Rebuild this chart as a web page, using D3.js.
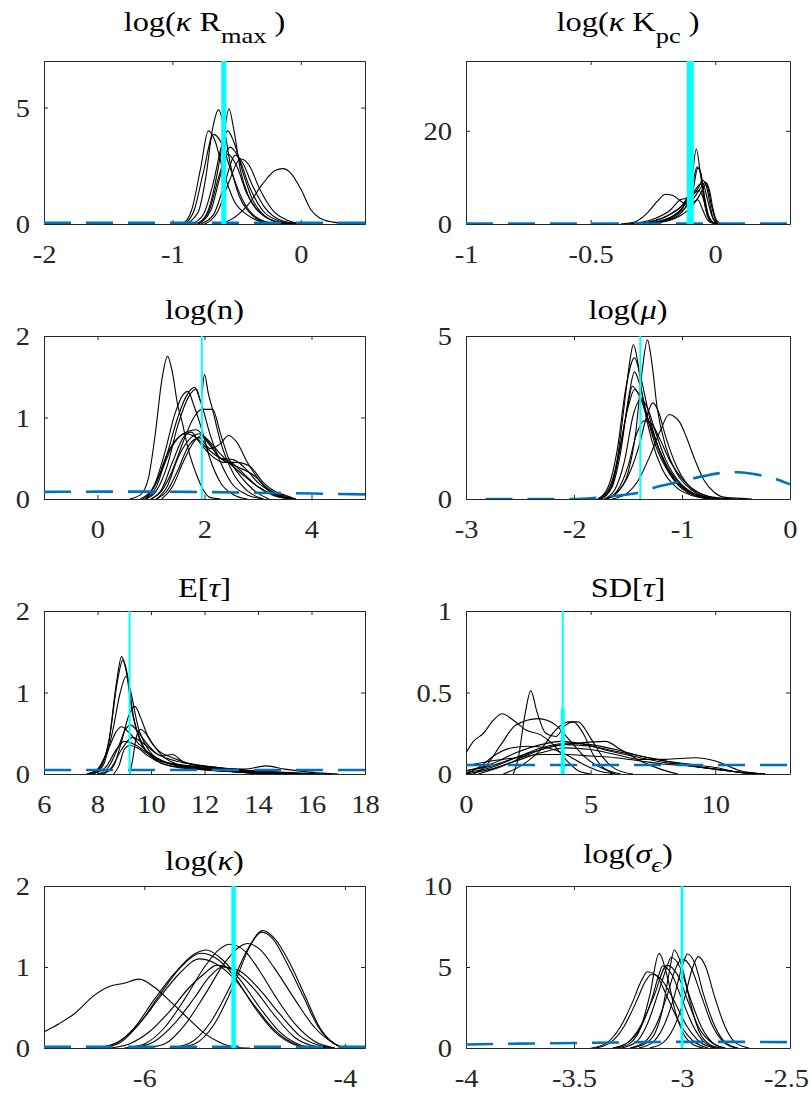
<!DOCTYPE html>
<html>
<head>
<meta charset="utf-8">
<script src="https://cdn.jsdelivr.net/npm/d3@7"></script>
<style>
  body { margin: 0; background: #fff; }
  svg { display: block; }
</style>
</head>
<body>
<svg id="fig" width="811" height="1097"></svg>
<script>
// ---------- posterior densities, priors and true values per parameter ----------

// log(kappa Rmax)
const kRmaxX = [-2, 0.5], kRmaxY = [0, 7];
const kRmaxTicksX = [-2, -1, 0], kRmaxTicksY = [0, 5];
const kRmaxTruth = -0.6;
const kRmaxPrior = [[-2, 0.05], [0.5, 0.05]];
const kRmaxCurves = [
  [[-0.9,0],[-0.8,0.5],[-0.74,2.0],[-0.69,4.0],[-0.64,4.9],[-0.6,4.2],[-0.55,2.6],[-0.48,1.2],[-0.4,0.5],[-0.3,0.1],[-0.2,0]],
  [[-0.8,0],[-0.72,0.6],[-0.65,2.2],[-0.6,3.8],[-0.56,4.95],[-0.52,4.0],[-0.47,2.3],[-0.4,1.1],[-0.3,0.4],[-0.15,0.05],[-0.05,0]],
  [[-0.92,0],[-0.85,0.6],[-0.78,2.4],[-0.72,4.0],[-0.67,3.6],[-0.6,2.2],[-0.52,1.0],[-0.42,0.4],[-0.3,0.08],[-0.2,0]],
  [[-0.9,0],[-0.83,0.6],[-0.76,2.2],[-0.68,3.85],[-0.62,3.5],[-0.55,2.4],[-0.45,1.0],[-0.35,0.3],[-0.2,0]],
  [[-0.85,0],[-0.76,0.4],[-0.68,1.8],[-0.62,3.3],[-0.57,4.0],[-0.52,3.5],[-0.45,2.2],[-0.38,1.1],[-0.28,0.35],[-0.15,0.05],[-0.05,0]],
  [[-0.82,0],[-0.72,0.5],[-0.64,2.0],[-0.55,3.3],[-0.48,2.8],[-0.4,1.6],[-0.3,0.6],[-0.18,0.15],[-0.05,0]],
  [[-0.78,0],[-0.68,0.4],[-0.6,1.6],[-0.51,2.95],[-0.45,2.6],[-0.38,1.7],[-0.28,0.7],[-0.15,0.15],[0,0]],
  [[-0.75,0],[-0.65,0.5],[-0.56,1.8],[-0.47,2.8],[-0.4,2.5],[-0.32,1.5],[-0.22,0.6],[-0.1,0.15],[0.02,0]],
  [[-0.62,0],[-0.5,0.35],[-0.4,0.9],[-0.3,1.7],[-0.2,2.3],[-0.14,2.38],[-0.08,2.2],[0,1.5],[0.08,0.6],[0.15,0.25],[0.25,0.08],[0.4,0]],
  [[-0.8,0],[-0.7,0.6],[-0.63,2.0],[-0.57,3.0],[-0.5,2.5],[-0.42,1.3],[-0.32,0.5],[-0.2,0.1],[-0.1,0]]
];

// log(kappa Kpc)
const kKpcX = [-1, 0.3], kKpcY = [0, 35];
const kKpcTicksX = [-1, -0.5, 0], kKpcTicksY = [0, 20];
const kKpcTruth = -0.1;
const kKpcPrior = [[-1, 0.1], [0.3, 0.1]];
const kKpcCurves = [
  [[-0.3,0],[-0.22,0.6],[-0.16,2.0],[-0.12,4.5],[-0.095,9],[-0.076,16.1],[-0.06,11],[-0.045,5],[-0.03,1.5],[-0.01,0.2],[0.01,0]],
  [[-0.32,0],[-0.24,0.8],[-0.17,2.5],[-0.12,5],[-0.09,9],[-0.072,12.3],[-0.055,10],[-0.04,5],[-0.025,1.5],[-0.005,0.2],[0.015,0]],
  [[-0.3,0],[-0.2,1],[-0.14,3],[-0.1,5.5],[-0.07,7.5],[-0.05,9.4],[-0.035,8],[-0.02,4],[-0.008,1],[0.01,0]],
  [[-0.28,0],[-0.18,1.2],[-0.12,3.5],[-0.08,6],[-0.055,8],[-0.04,9.0],[-0.028,7.5],[-0.015,4],[0,1],[0.02,0]],
  [[-0.3,0],[-0.2,1.5],[-0.13,4],[-0.09,6.5],[-0.06,8.5],[-0.045,8],[-0.03,5],[-0.015,2],[0.005,0.3],[0.02,0]],
  [[-0.26,0],[-0.17,1],[-0.11,3],[-0.07,5.5],[-0.05,7.5],[-0.035,8.8],[-0.022,7],[-0.01,3.5],[0.005,0.8],[0.025,0]],
  [[-0.38,0],[-0.32,0.5],[-0.27,2.5],[-0.23,5],[-0.2,6.4],[-0.17,6.1],[-0.14,5],[-0.11,4],[-0.09,4.6],[-0.07,5.2],[-0.05,3],[-0.03,0.8],[0,0]],
  [[-0.35,0],[-0.25,1],[-0.18,3],[-0.14,5.2],[-0.11,5.6],[-0.085,6.5],[-0.065,7.2],[-0.045,5],[-0.03,2],[-0.01,0.4],[0.01,0]],
  [[-0.28,0],[-0.18,1],[-0.12,3.5],[-0.09,7],[-0.07,12],[-0.058,11],[-0.045,6],[-0.03,2],[-0.01,0.3],[0.01,0]]
];

// log(n)
const logNX = [-1, 5], logNY = [0, 2];
const logNTicksX = [0, 2, 4], logNTicksY = [0, 1, 2];
const logNTruth = 1.95;
const logNPrior = [[-1,0.088],[0,0.09],[1,0.09],[2,0.085],[3,0.077],[4,0.067],[5,0.057]];
const logNCurves = [
  [[0.6,0],[0.8,0.05],[0.95,0.25],[1.08,0.8],[1.2,1.45],[1.31,1.75],[1.4,1.55],[1.5,1.15],[1.58,0.95],[1.7,0.6],[1.85,0.3],[1.97,0.12],[2.1,0.02],[2.3,0]],
  [[0.9,0],[1.1,0.1],[1.3,0.4],[1.5,0.9],[1.7,1.25],[1.85,1.35],[1.93,1.2],[2.0,1.53],[2.07,1.3],[2.15,1.1],[2.3,0.7],[2.55,0.3],[2.8,0.1],[3.1,0]],
  [[0.9,0],[1.1,0.15],[1.3,0.55],[1.5,1.0],[1.65,1.25],[1.81,1.37],[1.95,1.15],[2.1,0.8],[2.3,0.45],[2.5,0.2],[2.8,0.05],[3.1,0]],
  [[0.85,0],[1.05,0.15],[1.25,0.55],[1.45,1.05],[1.6,1.28],[1.69,1.32],[1.8,1.15],[1.95,0.85],[2.1,0.5],[2.3,0.2],[2.55,0.05],[2.8,0]],
  [[1.0,0],[1.2,0.1],[1.4,0.35],[1.6,0.7],[1.8,1.0],[1.95,1.1],[2.15,1.1],[2.3,0.8],[2.45,0.5],[2.65,0.3],[2.9,0.12],[3.2,0]],
  [[0.8,0],[1.0,0.1],[1.2,0.35],[1.4,0.65],[1.6,0.8],[1.85,0.85],[2.05,0.7],[2.3,0.5],[2.6,0.4],[2.9,0.3],[3.2,0.12],[3.5,0.02],[3.7,0]],
  [[0.9,0],[1.1,0.2],[1.3,0.55],[1.5,0.75],[1.65,0.8],[1.85,0.75],[2.05,0.62],[2.3,0.5],[2.5,0.45],[2.75,0.3],[3.0,0.15],[3.3,0.04],[3.6,0]],
  [[1.1,0],[1.3,0.1],[1.5,0.35],[1.7,0.65],[1.9,0.75],[2.1,0.62],[2.3,0.68],[2.45,0.78],[2.6,0.7],[2.8,0.45],[3.0,0.25],[3.2,0.1],[3.5,0.02],[3.7,0]],
  [[1.0,0],[1.2,0.12],[1.4,0.45],[1.6,0.75],[1.75,0.82],[1.9,0.7],[2.1,0.55],[2.35,0.45],[2.6,0.45],[2.85,0.4],[3.1,0.2],[3.4,0.06],[3.7,0]],
  [[1.2,0],[1.4,0.15],[1.6,0.45],[1.8,0.7],[1.95,0.78],[2.1,0.7],[2.3,0.55],[2.5,0.42],[2.75,0.28],[3.0,0.15],[3.3,0.05],[3.6,0]],
  [[1.1,0],[1.3,0.15],[1.5,0.5],[1.7,0.72],[1.9,0.8],[2.1,0.68],[2.3,0.5],[2.55,0.48],[2.8,0.35],[3.0,0.2],[3.3,0.08],[3.5,0.05],[3.7,0]]
];

// log(mu)
const logMuX = [-3, 0], logMuY = [0, 5];
const logMuTicksX = [-3, -2, -1, 0], logMuTicksY = [0, 5];
const logMuTruth = -1.386;
const logMuPrior = [[-2.82,0],[-2.0,0.0],[-1.79,0.04],[-1.6,0.1],[-1.4,0.2],[-1.22,0.38],[-1.0,0.55],[-0.79,0.71],[-0.63,0.8],[-0.48,0.82],[-0.29,0.74],[-0.12,0.6],[0,0.45]];
const logMuCurves = [
  [[-1.78,0],[-1.68,0.3],[-1.6,1.2],[-1.53,3.0],[-1.48,4.3],[-1.45,4.74],[-1.41,4.2],[-1.36,3.0],[-1.28,1.8],[-1.18,0.9],[-1.05,0.35],[-0.9,0.1],[-0.75,0]],
  [[-1.7,0],[-1.6,0.2],[-1.5,0.8],[-1.43,2.0],[-1.37,3.9],[-1.32,4.88],[-1.28,4.2],[-1.23,2.8],[-1.15,1.6],[-1.05,0.8],[-0.92,0.3],[-0.8,0.08],[-0.65,0]],
  [[-1.78,0],[-1.68,0.4],[-1.6,1.5],[-1.52,3.4],[-1.44,4.33],[-1.38,3.7],[-1.3,2.5],[-1.2,1.4],[-1.08,0.6],[-0.95,0.2],[-0.8,0.05],[-0.65,0]],
  [[-1.75,0],[-1.65,0.4],[-1.57,1.6],[-1.5,2.9],[-1.46,3.46],[-1.4,3.2],[-1.32,2.5],[-1.22,1.6],[-1.1,0.8],[-0.98,0.35],[-0.85,0.1],[-0.7,0]],
  [[-1.76,0],[-1.66,0.35],[-1.58,1.5],[-1.5,2.8],[-1.44,3.36],[-1.38,3.1],[-1.3,2.3],[-1.2,1.4],[-1.08,0.65],[-0.95,0.25],[-0.8,0.06],[-0.6,0]],
  [[-1.7,0],[-1.6,0.2],[-1.5,0.7],[-1.4,1.6],[-1.33,2.5],[-1.27,2.95],[-1.22,2.7],[-1.15,1.9],[-1.05,1.0],[-0.95,0.45],[-0.82,0.15],[-0.65,0]],
  [[-1.65,0],[-1.52,0.15],[-1.4,0.6],[-1.3,1.3],[-1.2,2.1],[-1.12,2.59],[-1.06,2.5],[-1.02,2.35],[-0.96,1.9],[-0.88,1.2],[-0.8,0.6],[-0.7,0.2],[-0.6,0.05],[-0.45,0.02],[-0.35,0]],
  [[-1.72,0],[-1.62,0.3],[-1.53,1.2],[-1.45,2.6],[-1.38,3.05],[-1.32,2.8],[-1.25,2.1],[-1.15,1.2],[-1.02,0.5],[-0.88,0.15],[-0.7,0]],
  [[-1.7,0],[-1.6,0.25],[-1.5,1.0],[-1.42,2.0],[-1.35,2.4],[-1.28,2.3],[-1.2,1.8],[-1.1,1.1],[-0.98,0.55],[-0.85,0.2],[-0.7,0.05],[-0.5,0]],
  [[-1.75,0],[-1.65,0.35],[-1.57,1.4],[-1.49,3.2],[-1.44,3.9],[-1.39,3.5],[-1.32,2.5],[-1.24,1.6],[-1.12,0.8],[-0.98,0.3],[-0.85,0.08],[-0.7,0]]
];

// E[tau]
const meanTauX = [6, 18], meanTauY = [0, 2];
const meanTauTicksX = [6, 8, 10, 12, 14, 16, 18], meanTauTicksY = [0, 1, 2];
const meanTauTruth = 9.2;
const meanTauPrior = [[6, 0.05], [18, 0.05]];
const meanTauCurves = [
  [[7.6,0],[8.0,0.05],[8.4,0.35],[8.7,1.1],[8.9,1.44],[9.05,1.3],[9.3,0.75],[9.6,0.4],[10.0,0.22],[10.5,0.12],[11.2,0.08],[12.5,0.04],[14,0.01],[15,0]],
  [[7.7,0],[8.1,0.08],[8.45,0.45],[8.75,1.15],[8.95,1.4],[9.1,1.25],[9.35,0.7],[9.7,0.35],[10.2,0.18],[11,0.1],[12,0.06],[13.5,0.02],[15,0]],
  [[7.8,0],[8.2,0.1],[8.55,0.5],[8.85,1.0],[9.07,1.2],[9.25,1.0],[9.5,0.6],[9.9,0.3],[10.5,0.15],[11.5,0.09],[13,0.04],[14.5,0.01],[16,0]],
  [[8.2,0],[8.6,0.1],[8.9,0.4],[9.15,0.7],[9.4,0.83],[9.6,0.7],[9.9,0.45],[10.3,0.28],[10.8,0.2],[11.5,0.12],[12.5,0.07],[14,0.03],[16,0]],
  [[7.6,0],[8.0,0.06],[8.4,0.3],[8.7,0.52],[8.9,0.58],[9.2,0.5],[9.6,0.35],[10.1,0.22],[10.6,0.14],[11.5,0.1],[12.5,0.07],[13.5,0.06],[14.3,0.1],[15,0.06],[16,0.02],[17,0]],
  [[8.0,0],[8.4,0.08],[8.8,0.35],[9.05,0.55],[9.25,0.6],[9.5,0.52],[9.9,0.35],[10.4,0.22],[10.8,0.24],[11.2,0.15],[12,0.1],[13,0.06],[14.5,0.02],[16,0]],
  [[8.1,0],[8.5,0.07],[8.9,0.3],[9.3,0.45],[9.7,0.38],[10.2,0.25],[10.7,0.18],[11.5,0.12],[12.5,0.08],[13.5,0.05],[15,0.02],[16.5,0]],
  [[7.8,0],[8.3,0.08],[8.7,0.3],[9.0,0.4],[9.4,0.36],[9.9,0.25],[10.5,0.15],[11.2,0.1],[12.2,0.06],[13.5,0.03],[15,0]],
  [[8.6,0],[8.8,0.1],[9.0,0.3],[9.2,0.35],[9.5,0.32],[9.9,0.22],[10.4,0.13],[11,0.08],[12,0.05],[13.5,0.02],[15,0]],
  [[9.2,0],[9.3,0.15],[9.45,0.45],[9.6,0.55],[9.8,0.5],[10.1,0.35],[10.5,0.2],[11,0.12],[12,0.06],[13,0.03],[14,0]]
];

// SD[tau]
const sdTauX = [0, 13], sdTauY = [0, 1];
const sdTauTicksX = [0, 5, 10], sdTauTicksY = [0, 0.5, 1];
const sdTauTruth = 3.88;
const sdTauTruthLow = [0, 0.4];
const sdTauPrior = [[0, 0.055], [13, 0.055]];
const sdTauCurves = [
  [[0,0.13],[0.3,0.2],[0.7,0.25],[1.1,0.33],[1.45,0.37],[1.9,0.33],[2.4,0.27],[3.0,0.24],[3.5,0.18],[4.0,0.09],[4.5,0.02],[5,0]],
  [[1.9,0],[2.1,0.1],[2.35,0.35],[2.6,0.51],[2.85,0.38],[3.2,0.25],[3.6,0.23],[4.0,0.3],[4.3,0.32],[4.7,0.25],[5.1,0.12],[5.5,0.04],[6,0]],
  [[0.3,0],[0.8,0.05],[1.4,0.18],[2.0,0.3],[2.9,0.34],[3.6,0.3],[4.2,0.2],[4.8,0.1],[5.4,0.04],[6.2,0]],
  [[1.5,0],[2.2,0.05],[3.0,0.15],[3.6,0.27],[4.1,0.32],[4.5,0.32],[5.0,0.22],[5.5,0.1],[6.0,0.03],[6.7,0]],
  [[0,0.02],[1,0.06],[2,0.13],[3,0.18],[3.8,0.2],[4.8,0.18],[5.8,0.14],[7,0.1],[8,0.07],[9,0.05],[10,0.03],[11,0.01],[12,0]],
  [[0,0.01],[1,0.04],[2,0.1],[3,0.16],[4.2,0.19],[5,0.18],[6,0.15],[7,0.11],[8,0.08],[9,0.05],[10,0.03],[11,0.01],[12,0]],
  [[0,0],[1,0.03],[2,0.08],[3,0.13],[4,0.16],[5,0.15],[6,0.12],[7,0.09],[8,0.09],[9.2,0.1],[10,0.08],[11,0.02],[12,0]],
  [[0.5,0],[1.5,0.05],[2.5,0.12],[3.5,0.17],[4.5,0.19],[5.6,0.2],[6.2,0.15],[7,0.08],[7.8,0.03],[8.5,0]],
  [[0,0.05],[1,0.08],[2,0.1],[3,0.12],[4,0.12],[5,0.11],[6,0.1],[7,0.08],[8,0.06],[9,0.05],[10,0.03],[11,0.01],[12,0]],
  [[0,0],[0.6,0.05],[1.2,0.12],[1.8,0.16],[2.5,0.17],[3.3,0.16],[4,0.12],[4.7,0.06],[5.3,0.02],[6,0]],
  [[0,0.02],[1,0.05],[2,0.1],[3,0.15],[4,0.18],[5,0.17],[6,0.14],[7,0.11],[8,0.08],[9,0.06],[10,0.04],[11,0.01],[12,0]]
];

// log(kappa)
const logKappaX = [-7, -3.8], logKappaY = [0, 2];
const logKappaTicksX = [-6, -4], logKappaTicksY = [0, 1, 2];
const logKappaTruth = -5.11;
const logKappaPrior = [[-7, 0.015], [-3.8, 0.015]];
const logKappaCurves = [
  [[-7,0.2],[-6.85,0.3],[-6.7,0.42],[-6.5,0.65],[-6.35,0.76],[-6.2,0.8],[-6.05,0.85],[-5.9,0.75],[-5.72,0.55],[-5.55,0.35],[-5.4,0.18],[-5.25,0.07],[-5.1,0.01],[-4.95,0]],
  [[-5.7,0],[-5.5,0.05],[-5.3,0.3],[-5.1,0.8],[-4.95,1.25],[-4.82,1.45],[-4.7,1.35],[-4.55,1.05],[-4.4,0.65],[-4.25,0.25],[-4.1,0.05],[-4,0]],
  [[-5.75,0],[-5.55,0.06],[-5.35,0.3],[-5.12,0.82],[-4.97,1.22],[-4.83,1.43],[-4.72,1.35],[-4.58,1.05],[-4.42,0.65],[-4.27,0.27],[-4.12,0.06],[-4,0]],
  [[-6.2,0],[-6.0,0.05],[-5.8,0.25],[-5.6,0.6],[-5.4,1.0],[-5.25,1.22],[-5.15,1.28],[-5.0,1.2],[-4.85,0.95],[-4.7,0.65],[-4.5,0.3],[-4.3,0.08],[-4.1,0]],
  [[-6.0,0],[-5.8,0.05],[-5.6,0.28],[-5.4,0.65],[-5.2,1.05],[-5.05,1.25],[-4.97,1.29],[-4.85,1.22],[-4.7,0.98],[-4.5,0.6],[-4.3,0.25],[-4.1,0.05],[-4,0]],
  [[-6.5,0],[-6.3,0.05],[-6.1,0.25],[-5.9,0.6],[-5.7,0.92],[-5.5,1.16],[-5.38,1.21],[-5.25,1.12],[-5.05,0.85],[-4.85,0.5],[-4.65,0.2],[-4.45,0.04],[-4.3,0]],
  [[-6.45,0],[-6.25,0.06],[-6.05,0.3],[-5.85,0.65],[-5.65,0.98],[-5.43,1.17],[-5.3,1.12],[-5.1,0.88],[-4.9,0.5],[-4.7,0.2],[-4.5,0.04],[-4.35,0]],
  [[-6.45,0],[-6.25,0.08],[-6.05,0.3],[-5.85,0.62],[-5.65,0.92],[-5.45,1.1],[-5.3,1.05],[-5.1,0.85],[-4.9,0.52],[-4.7,0.22],[-4.5,0.05],[-4.35,0]],
  [[-6.35,0],[-6.15,0.05],[-5.95,0.2],[-5.75,0.45],[-5.55,0.75],[-5.4,0.92],[-5.28,1.02],[-5.1,0.95],[-4.9,0.72],[-4.7,0.4],[-4.5,0.13],[-4.3,0.02],[-4.15,0]],
  [[-6.1,0],[-5.9,0.08],[-5.7,0.3],[-5.5,0.62],[-5.35,0.88],[-5.22,1.0],[-5.05,0.95],[-4.85,0.72],[-4.65,0.42],[-4.45,0.15],[-4.25,0.03],[-4.1,0]]
];

// log(sigma_epsilon)
const logSigmaX = [-4, -2.5], logSigmaY = [0, 10];
const logSigmaTicksX = [-4, -3.5, -3, -2.5], logSigmaTicksY = [0, 5, 10];
const logSigmaTruth = -3.0;
const logSigmaPrior = [[-4,0.22],[-3.75,0.27],[-3.5,0.31],[-3.25,0.35],[-3,0.38],[-2.75,0.38],[-2.5,0.36]];
const logSigmaCurves = [
  [[-3.24,0],[-3.18,0.2],[-3.13,0.8],[-3.09,2.4],[-3.06,4.6],[-3.036,6.05],[-3.0,5.0],[-2.96,2.7],[-2.92,1.0],[-2.87,0.2],[-2.82,0]],
  [[-3.3,0],[-3.24,0.3],[-3.19,1.3],[-3.15,3.2],[-3.106,5.84],[-3.07,4.5],[-3.03,2.2],[-2.99,0.8],[-2.94,0.15],[-2.9,0]],
  [[-3.2,0],[-3.14,0.3],[-3.09,1.2],[-3.04,3.0],[-3.0,5.0],[-2.974,5.8],[-2.94,5.2],[-2.9,3.3],[-2.85,1.4],[-2.8,0.35],[-2.74,0]],
  [[-3.15,0],[-3.09,0.3],[-3.04,1.2],[-2.99,3.0],[-2.95,5.0],[-2.924,5.64],[-2.89,5.0],[-2.85,3.2],[-2.8,1.3],[-2.75,0.3],[-2.69,0]],
  [[-3.28,0],[-3.21,0.4],[-3.16,1.5],[-3.11,3.4],[-3.07,5.0],[-3.05,5.6],[-3.01,5.0],[-2.96,3.0],[-2.91,1.3],[-2.86,0.35],[-2.8,0]],
  [[-3.32,0],[-3.25,0.35],[-3.19,1.4],[-3.13,3.2],[-3.07,5.1],[-3.02,4.5],[-2.97,2.8],[-2.92,1.2],[-2.86,0.3],[-2.8,0]],
  [[-3.42,0],[-3.35,0.3],[-3.29,1.2],[-3.23,2.8],[-3.19,4.1],[-3.16,4.71],[-3.12,4.5],[-3.07,3.2],[-3.01,1.5],[-2.95,0.45],[-2.88,0]],
  [[-3.4,0],[-3.33,0.35],[-3.27,1.3],[-3.21,2.9],[-3.17,4.1],[-3.14,4.55],[-3.1,4.3],[-3.04,3.0],[-2.98,1.4],[-2.92,0.4],[-2.85,0]],
  [[-3.24,0],[-3.17,0.4],[-3.12,1.4],[-3.07,3.2],[-3.03,4.9],[-3.0,5.5],[-2.96,5.0],[-2.91,3.2],[-2.86,1.4],[-2.81,0.4],[-2.75,0]],
  [[-3.32,0],[-3.25,0.35],[-3.19,1.3],[-3.14,3.0],[-3.11,4.4],[-3.09,5.06],[-3.05,4.6],[-3.0,3.0],[-2.95,1.4],[-2.9,0.4],[-2.84,0]]
];

// ---------- panel table ----------
const panels = [
  { title: [["log(","n"],["κ","i"],[" R","n"],["max","s"],[" )","n"]], titleY: 30.7, subDy: 12.7,
    xDomain: kRmaxX, yDomain: kRmaxY, xTicks: kRmaxTicksX, yTicks: kRmaxTicksY,
    curves: kRmaxCurves, prior: kRmaxPrior, truth: kRmaxTruth, truthWidth: 5, col: 0, row: 0 },
  { title: [["log(","n"],["κ","i"],[" K","n"],["pc","s"],[" )","n"]], titleY: 30.7, subDy: 12.7,
    xDomain: kKpcX, yDomain: kKpcY, xTicks: kKpcTicksX, yTicks: kKpcTicksY,
    curves: kKpcCurves, prior: kKpcPrior, truth: kKpcTruth, truthWidth: 7, col: 1, row: 0 },
  { title: [["log(n)","n"]], titleY: 319.3, subDy: 0,
    xDomain: logNX, yDomain: logNY, xTicks: logNTicksX, yTicks: logNTicksY,
    curves: logNCurves, prior: logNPrior, truth: logNTruth, truthWidth: 2, col: 0, row: 1 },
  { title: [["log(","n"],["μ","i"],[")","n"]], titleY: 319.3, subDy: 0,
    xDomain: logMuX, yDomain: logMuY, xTicks: logMuTicksX, yTicks: logMuTicksY,
    curves: logMuCurves, prior: logMuPrior, truth: logMuTruth, truthWidth: 2, col: 1, row: 1 },
  { title: [["E[","n"],["τ","i"],["]","n"]], titleY: 596.7, subDy: 0,
    xDomain: meanTauX, yDomain: meanTauY, xTicks: meanTauTicksX, yTicks: meanTauTicksY,
    curves: meanTauCurves, prior: meanTauPrior, truth: meanTauTruth, truthWidth: 2, col: 0, row: 2 },
  { title: [["SD[","n"],["τ","i"],["]","n"]], titleY: 596.7, subDy: 0,
    xDomain: sdTauX, yDomain: sdTauY, xTicks: sdTauTicksX, yTicks: sdTauTicksY,
    curves: sdTauCurves, prior: sdTauPrior, truth: sdTauTruth, truthWidth: 2, truthLow: sdTauTruthLow, col: 1, row: 2 },
  { title: [["log(","n"],["κ","i"],[")","n"]], titleY: 870, subDy: 0,
    xDomain: logKappaX, yDomain: logKappaY, xTicks: logKappaTicksX, yTicks: logKappaTicksY,
    curves: logKappaCurves, prior: logKappaPrior, truth: logKappaTruth, truthWidth: 4.5, col: 0, row: 3 },
  { title: [["log(","n"],["σ","i"],["ϵ","si"],[")","n"]], titleY: 863.3, subDy: 8.5,
    xDomain: logSigmaX, yDomain: logSigmaY, xTicks: logSigmaTicksX, yTicks: logSigmaTicksY,
    curves: logSigmaCurves, prior: logSigmaPrior, truth: logSigmaTruth, truthWidth: 2.7, col: 1, row: 3 }
];

// ---------- layout & styling ----------
const W = 811;
const cols = [[44, 365], [466, 790]];
const rows = [[61, 224], [336, 499], [611, 774], [886, 1048]];
const SERIF = "'Liberation Serif', 'Times New Roman', 'DejaVu Serif', serif";
const AXIS = "#262626";
const TICK_SX = 1.14, TITLE_SX = 1.2;
const fmt = d => String(d);

const svg = d3.select("#fig");
const defs = svg.append("defs");

panels.forEach((p, i) => {
  const [l, r] = cols[p.col];
  const [t, b] = rows[p.row];
  const x = d3.scaleLinear().domain(p.xDomain).range([l, r]);
  const y = d3.scaleLinear().domain(p.yDomain).range([b, t]);
  const g = svg.append("g");

  defs.append("clipPath").attr("id", "clip" + i)
    .append("rect").attr("x", l).attr("y", t).attr("width", r - l).attr("height", b - t);

  const styleAxis = sel => sel.attr("color", AXIS).attr("font-family", SERIF).attr("font-size", 25)
    .call(s => s.select(".domain").attr("stroke-width", 1));

  // bottom axis with labels
  g.append("g").attr("transform", `translate(0,${b})`)
    .call(d3.axisBottom(x).tickValues(p.xTicks).tickSize(-4).tickSizeOuter(0).tickFormat(fmt))
    .call(styleAxis)
    .selectAll(".tick text").attr("y", 39).attr("dy", null).attr("transform", `scale(${TICK_SX},1)`)
    .each(function () {
      // keep the outermost label inside the page
      const bb = this.getBoundingClientRect();
      const over = bb.right - (W - 2);
      if (over > 0) d3.select(this).attr("x", -over / TICK_SX);
    });
  // left axis with labels
  g.append("g").attr("transform", `translate(${l},0)`)
    .call(d3.axisLeft(y).tickValues(p.yTicks).tickSize(-4).tickSizeOuter(0).tickFormat(fmt))
    .call(styleAxis)
    .selectAll(".tick text").attr("x", -14 / TICK_SX).attr("y", 8.5).attr("dy", null).attr("transform", `scale(${TICK_SX},1)`);
  // mirrored ticks on top and right edges
  g.append("g").attr("transform", `translate(0,${t})`)
    .call(d3.axisTop(x).tickValues(p.xTicks).tickSize(-4).tickSizeOuter(0).tickFormat(""))
    .call(styleAxis);
  g.append("g").attr("transform", `translate(${r},0)`)
    .call(d3.axisRight(y).tickValues(p.yTicks).tickSize(-4).tickSizeOuter(0).tickFormat(""))
    .call(styleAxis);

  const line = d3.line().x(d => x(d[0])).y(d => y(d[1])).curve(d3.curveMonotoneX);
  const plot = g.append("g").attr("clip-path", `url(#clip${i})`);

  // posterior densities
  plot.append("g").selectAll("path").data(p.curves).join("path")
    .attr("d", line).attr("fill", "none").attr("stroke", "#000").attr("stroke-width", 1.1);

  // prior density
  plot.append("path").datum(p.prior).attr("d", line)
    .attr("fill", "none").attr("stroke", "#0072BD").attr("stroke-width", 2.6)
    .attr("stroke-dasharray", "27,15");

  // true value
  plot.append("line")
    .attr("x1", x(p.truth)).attr("x2", x(p.truth))
    .attr("y1", y(p.yDomain[0])).attr("y2", y(p.yDomain[1]))
    .attr("stroke", "#00FFFF").attr("stroke-width", p.truthWidth);
  if (p.truthLow) {
    plot.append("line")
      .attr("x1", x(p.truth)).attr("x2", x(p.truth))
      .attr("y1", y(p.truthLow[0])).attr("y2", y(p.truthLow[1]))
      .attr("stroke", "#00FFFF").attr("stroke-width", 4);
  }

  // title with optional subscript
  const tt = svg.append("text")
    .attr("transform", `translate(${(l + r) / 2},${p.titleY}) scale(${TITLE_SX},1)`)
    .attr("text-anchor", "middle").attr("font-family", SERIF).attr("font-size", 27)
    .attr("fill", "#000").style("white-space", "pre");
  let lowered = false;
  p.title.forEach(([s, k]) => {
    const ts = tt.append("tspan").text(s);
    if (k.includes("i")) ts.attr("font-style", "italic");
    const sub = k.startsWith("s");
    if (sub) ts.attr("font-size", 22);
    if (sub && !lowered) { ts.attr("dy", p.subDy); lowered = true; }
    else if (!sub && lowered) { ts.attr("dy", -p.subDy); lowered = false; }
  });
});
</script>
</body>
</html>
